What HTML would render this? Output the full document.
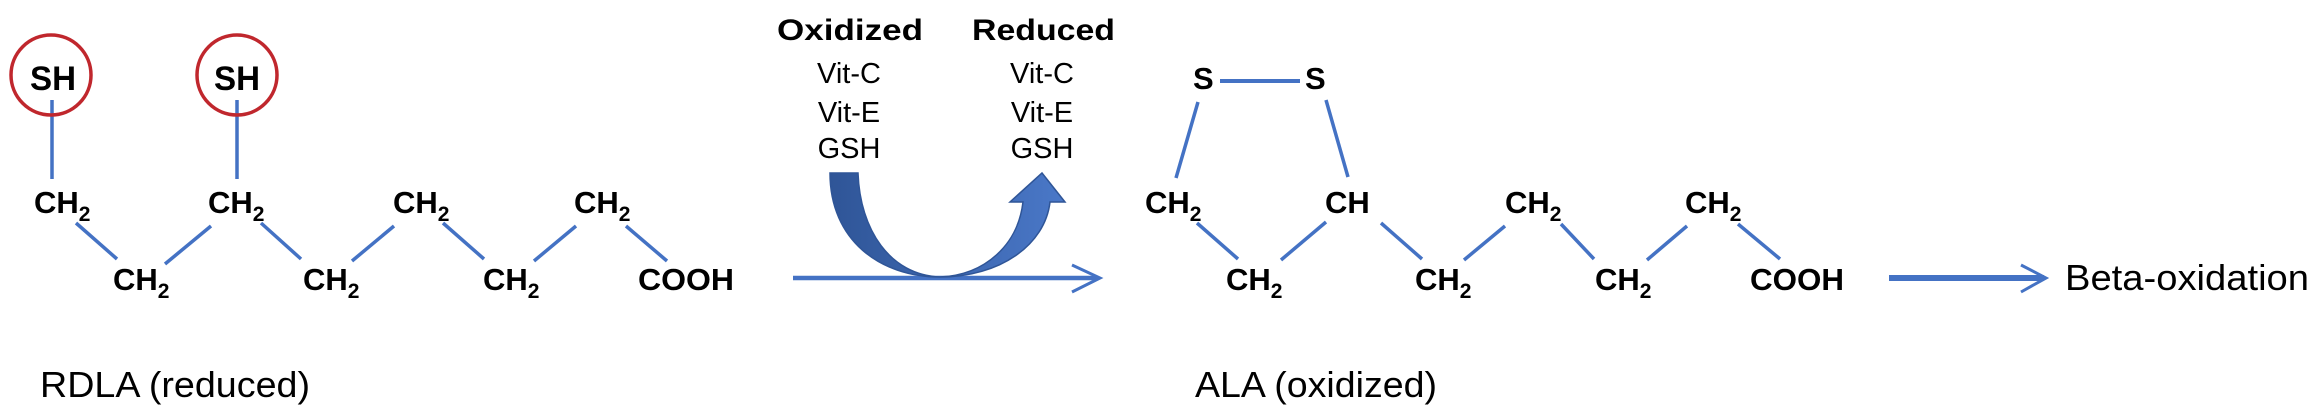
<!DOCTYPE html>
<html><head><meta charset="utf-8"><style>
html,body{margin:0;padding:0;background:#fff;}
svg{display:block;}
text{font-family:"Liberation Sans",sans-serif;fill:#000;}
.b{font-weight:bold;}
</style></head><body>
<svg width="2315" height="419" viewBox="0 0 2315 419" xmlns="http://www.w3.org/2000/svg">
<defs>
<linearGradient id="g" x1="0" y1="0" x2="1" y2="0">
<stop offset="0" stop-color="#2F5597"/><stop offset="1" stop-color="#4A78C8"/>
</linearGradient>
</defs>
<g stroke="#4472C4" stroke-width="3.5" fill="none">
<!-- RDLA -->
<line x1="52" y1="100" x2="52" y2="179"/>
<line x1="237" y1="100" x2="237" y2="179"/>
<line x1="76" y1="223" x2="117" y2="259"/>
<line x1="165" y1="264" x2="211" y2="226"/>
<line x1="261" y1="223" x2="301" y2="259"/>
<line x1="352" y1="261" x2="394" y2="226"/>
<line x1="443" y1="223" x2="484" y2="259"/>
<line x1="534" y1="261" x2="576" y2="226"/>
<line x1="626" y1="226" x2="667" y2="261"/>
<!-- ALA -->
<line x1="1220" y1="81" x2="1300" y2="81" stroke-width="4"/>
<line x1="1198" y1="102" x2="1176" y2="178"/>
<line x1="1326" y1="100" x2="1348" y2="177"/>
<line x1="1197" y1="223" x2="1238" y2="259"/>
<line x1="1281" y1="260" x2="1326" y2="222"/>
<line x1="1381" y1="223" x2="1422" y2="259"/>
<line x1="1464" y1="260" x2="1505" y2="226"/>
<line x1="1561" y1="224" x2="1594" y2="259"/>
<line x1="1647" y1="260" x2="1687" y2="226"/>
<line x1="1738" y1="224" x2="1780" y2="259"/>
<!-- arrows -->
<line x1="793" y1="278" x2="1098" y2="278" stroke-width="4.5"/>
<polyline points="1072,265 1100,278 1072,292" stroke-width="3"/>
<line x1="1889" y1="278" x2="2044" y2="278" stroke-width="6"/>
<polyline points="2021,265 2046,278 2021,292" stroke-width="3"/>
</g>
<g stroke="#C0272D" stroke-width="3.5" fill="none">
<ellipse cx="51" cy="75" rx="40" ry="40"/>
<ellipse cx="237" cy="75" rx="40" ry="40"/>
</g>
<!-- curved arrow -->
<path d="M830,173 C830,240 880,277 940,277 C1000,277 1045,245 1050,202 L1065,202 L1042,173 L1010,202 L1023,202 C1018,245 985,275 940,277 C890,275 860,230 858,173 Z" fill="url(#g)" stroke="#2F5597" stroke-width="1.5"/>

<!-- texts -->
<text class="b" x="30" y="90" font-size="34" textLength="46" lengthAdjust="spacingAndGlyphs">SH</text>
<text class="b" x="214" y="90" font-size="34" textLength="46" lengthAdjust="spacingAndGlyphs">SH</text>

<g class="b" font-size="31" font-weight="bold">
<text x="34" y="213">CH<tspan font-size="21" dy="8">2</tspan></text>
<text x="208" y="213">CH<tspan font-size="21" dy="8">2</tspan></text>
<text x="393" y="213">CH<tspan font-size="21" dy="8">2</tspan></text>
<text x="574" y="213">CH<tspan font-size="21" dy="8">2</tspan></text>
<text x="113" y="290">CH<tspan font-size="21" dy="8">2</tspan></text>
<text x="303" y="290">CH<tspan font-size="21" dy="8">2</tspan></text>
<text x="483" y="290">CH<tspan font-size="21" dy="8">2</tspan></text>
<text x="638" y="290" textLength="96" lengthAdjust="spacingAndGlyphs">COOH</text>

<text x="1193" y="89">S</text>
<text x="1305" y="89">S</text>
<text x="1145" y="213">CH<tspan font-size="21" dy="8">2</tspan></text>
<text x="1325" y="213">CH</text>
<text x="1505" y="213">CH<tspan font-size="21" dy="8">2</tspan></text>
<text x="1685" y="213">CH<tspan font-size="21" dy="8">2</tspan></text>
<text x="1226" y="290">CH<tspan font-size="21" dy="8">2</tspan></text>
<text x="1415" y="290">CH<tspan font-size="21" dy="8">2</tspan></text>
<text x="1595" y="290">CH<tspan font-size="21" dy="8">2</tspan></text>
<text x="1750" y="290" textLength="94" lengthAdjust="spacingAndGlyphs">COOH</text>
</g>

<text class="b" x="777" y="40" font-size="30" textLength="146" lengthAdjust="spacingAndGlyphs">Oxidized</text>
<text class="b" x="972" y="40" font-size="30" textLength="143" lengthAdjust="spacingAndGlyphs">Reduced</text>
<g font-size="29" text-anchor="middle">
<text x="849" y="83">Vit-C</text>
<text x="849" y="122">Vit-E</text>
<text x="849" y="158">GSH</text>
<text x="1042" y="83">Vit-C</text>
<text x="1042" y="122">Vit-E</text>
<text x="1042" y="158">GSH</text>
</g>

<text x="40" y="397" font-size="36" textLength="270" lengthAdjust="spacingAndGlyphs">RDLA (reduced)</text>
<text x="1195" y="397" font-size="36" textLength="242" lengthAdjust="spacingAndGlyphs">ALA (oxidized)</text>
<text x="2065" y="290" font-size="36" textLength="244" lengthAdjust="spacingAndGlyphs">Beta-oxidation</text>
</svg>
</body></html>
